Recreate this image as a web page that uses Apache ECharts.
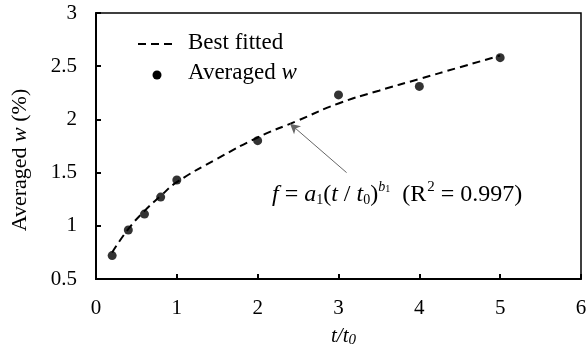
<!DOCTYPE html>
<html><head><meta charset="utf-8">
<script src="https://cdn.jsdelivr.net/npm/echarts@6/dist/echarts.min.js"></script>
<style>html,body{margin:0;padding:0;background:#fff}#c{width:586px;height:349px}</style>
</head><body><div id="c"></div>
<script>
// Averaged w data points
var ptT = [0.2, 0.4, 0.6, 0.8, 1.0, 2.0, 3.0, 4.0, 5.0];
var ptW = [0.72, 0.96, 1.11, 1.27, 1.43, 1.80, 2.23, 2.31, 2.58];
// Best-fitted curve
var fitT = [0.2, 0.4, 0.6, 0.8, 1.0, 1.5, 2.0, 2.5, 3.0, 3.5, 4.0, 4.5, 5.0];
var fitW = [0.75, 0.97, 1.14, 1.28, 1.41, 1.63, 1.83, 1.99, 2.15, 2.27, 2.38, 2.49, 2.60];
// Arrow annotation (data coordinates)
var arrowFrom = [3.1, 1.50];
var arrowTo = [2.4, 1.96];

var FONT = '"Liberation Serif","Times New Roman",serif';
var chart = echarts.init(document.getElementById('c'));
chart.setOption({
  animation: false,
  backgroundColor: '#fff',
  grid: {left: 96, right: 5, top: 13, bottom: 70, show: true, borderColor: '#000', borderWidth: 1.5,
         containLabel: false, outerBoundsMode: 'none'},
  xAxis: {
    type: 'value', min: 0, max: 6, interval: 1,
    name: '{i|t}{i|/t}{s|0}', nameLocation: 'middle', nameGap: 45,
    nameTextStyle: {fontFamily: FONT, fontSize: 21, color: '#000', padding: [0, 0, 0, 10],
      rich: {i: {fontFamily: FONT, fontStyle: 'italic', fontSize: 21, color: '#000'},
             s: {fontFamily: FONT, fontStyle: 'italic', fontSize: 15, color: '#000', padding: [9,0,0,0]}}},
    axisLine: {lineStyle: {color: '#000', width: 2}},
    axisTick: {inside: true, length: 5, lineStyle: {color: '#000', width: 2}},
    axisLabel: {fontFamily: FONT, fontSize: 21, color: '#000', margin: 19},
    splitLine: {show: false}
  },
  yAxis: {
    type: 'value', min: 0.5, max: 3, interval: 0.5,
    axisLine: {lineStyle: {color: '#000', width: 2}},
    axisTick: {inside: true, length: 5, lineStyle: {color: '#000', width: 2}},
    axisLabel: {fontFamily: FONT, fontSize: 21, color: '#000', margin: 19},
    splitLine: {show: false}
  },
  series: [
    {
      type: 'line', name: 'Best fitted', smooth: true, symbol: 'none',
      data: fitT.map(function (t, i) { return [t, fitW[i]]; }),
      lineStyle: {color: '#000', width: 2, type: [8, 5]},
      z: 2,
      markLine: {
        silent: true, symbol: ['none', 'arrow'], symbolSize: [8, 10],
        label: {show: false},
        lineStyle: {color: '#666', width: 1, type: 'solid'},
        data: [[{coord: arrowFrom}, {coord: arrowTo}]]
      }
    },
    {
      type: 'scatter', name: 'Averaged w', symbol: 'circle', symbolSize: 9,
      data: ptT.map(function (t, i) { return [t, ptW[i]]; }),
      itemStyle: {color: '#000'}, z: 3
    }
  ],
  graphic: [
    {type: 'text', x: 20, y: 160, rotation: Math.PI / 2, style: {
      text: '{n|Averaged }{i|w}{n| (%)}', align: 'center', verticalAlign: 'middle', fill: '#000',
      rich: {n: {fontFamily: FONT, fontSize: 22, fill: '#000'}, i: {fontFamily: FONT, fontSize: 22, fontStyle: 'italic', fill: '#000'}}}},
    {type: 'line', shape: {x1: 138, y1: 44, x2: 176, y2: 44}, style: {stroke: '#000', lineWidth: 2, lineDash: [8, 5]}},
    {type: 'text', left: 188, top: 31, style: {text: 'Best fitted', font: '23px ' + FONT, fill: '#000'}},
    {type: 'circle', shape: {cx: 157, cy: 75, r: 4.5}, style: {fill: '#000'}},
    {type: 'text', left: 188, top: 61, style: {
      text: '{n|Averaged }{i|w}', fill: '#000',
      rich: {n: {fontFamily: FONT, fontSize: 23, fill: '#000'}, i: {fontFamily: FONT, fontSize: 23, fontStyle: 'italic', fill: '#000'}}}},
    {type: 'text', left: 272, top: 180, style: {
      text: '{i|f}{n| = }{i|a}{s|1}{n|(}{i|t}{n| / }{i|t}{s|0}{n|)}{p|b}{ps|1}{n|  (R}{pn|2}{n| = 0.997)}', fill: '#000',
      rich: {
        n: {fontFamily: FONT, fontSize: 24, fill: '#000'},
        i: {fontFamily: FONT, fontSize: 24, fontStyle: 'italic', fill: '#000'},
        s: {fontFamily: FONT, fontSize: 14, fill: '#000', padding: [12, 0, 0, 0]},
        p: {fontFamily: FONT, fontSize: 14, fontStyle: 'italic', fill: '#000', padding: [0, 0, 14, 0]},
        ps: {fontFamily: FONT, fontSize: 10, fill: '#000', padding: [0, 0, 11, 0]},
        pn: {fontFamily: FONT, fontSize: 15, fill: '#000', padding: [0, 0, 14, 1]}
      }}}
  ]
});
</script></body></html>
